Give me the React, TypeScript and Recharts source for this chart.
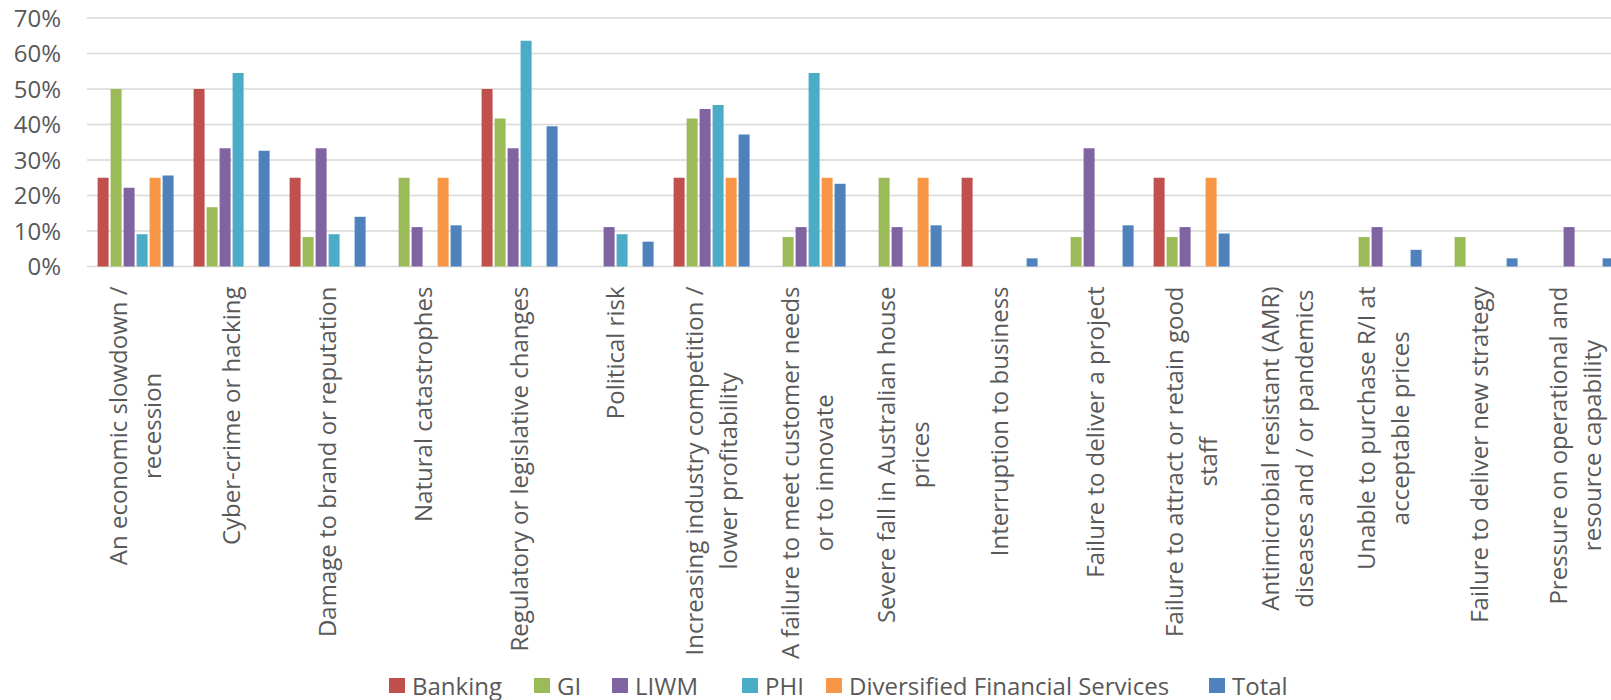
import React from 'react';
import { BarChart, Bar, XAxis, YAxis, CartesianGrid, Legend } from 'recharts';

const categories: string[] = [
  'An economic slowdown /\nrecession',
  'Cyber-crime or hacking',
  'Damage to brand or reputation',
  'Natural catastrophes',
  'Regulatory or legislative changes',
  'Political risk',
  'Increasing industry competition /\nlower profitability',
  'A failure to meet customer needs\nor to innovate',
  'Severe fall in Australian house\nprices',
  'Interruption to business',
  'Failure to deliver a project',
  'Failure to attract or retain good\nstaff',
  'Antimicrobial resistant (AMR)\ndiseases and / or pandemics',
  'Unable to purchase R/I at\nacceptable prices',
  'Failure to deliver new strategy',
  'Pressure on operational and\nresource capability',
];

const banking = [25, 50, 25, 0, 50, 0, 25, 0, 0, 25, 0, 25, 0, 0, 0, 0];
const gi = [50, 16.7, 8.3, 25, 41.7, 0, 41.7, 8.3, 25, 0, 8.3, 8.3, 0, 8.3, 8.3, 0];
const liwm = [22.2, 33.3, 33.3, 11.1, 33.3, 11.1, 44.4, 11.1, 11.1, 0, 33.3, 11.1, 0, 11.1, 0, 11.1];
const phi = [9.1, 54.5, 9.1, 0, 63.6, 9.1, 45.5, 54.5, 0, 0, 0, 0, 0, 0, 0, 0];
const dfs = [25, 0, 0, 25, 0, 0, 25, 25, 25, 0, 0, 25, 0, 0, 0, 0];
const total = [25.6, 32.6, 14.0, 11.6, 39.5, 7.0, 37.2, 23.3, 11.6, 2.3, 11.6, 9.3, 0, 4.7, 2.3, 2.3];

const yTicks = [0, 10, 20, 30, 40, 50, 60, 70];

const seriesNames = ['Banking', 'GI', 'LIWM', 'PHI', 'Diversified Financial Services', 'Total'];
const seriesColors = ['#C0504D', '#9BBB59', '#8064A2', '#4BACC6', '#F79646', '#4F81BD'];
const seriesValues = [banking, gi, liwm, phi, dfs, total];

// legend swatch left edges (layout only)
const legendLefts = [389, 534, 612, 742, 826, 1209];

const data = categories.map((name, i) => {
  const row: Record<string, any> = { name };
  seriesNames.forEach((s, k) => {
    row[s] = seriesValues[k][i];
  });
  return row;
});

const FONT = '"Open Sans", "Noto Sans", sans-serif';
const TEXT = '#595959';
const FS = 24;

let ctx: CanvasRenderingContext2D | null = null;
function measure(t: string): number {
  if (!ctx) {
    const c = document.createElement('canvas');
    ctx = c.getContext('2d');
  }
  if (!ctx) return t.length * FS * 0.55;
  ctx.font = `${FS}px "Open Sans"`;
  return ctx.measureText(t).width;
}

const CategoryTick = (props: any) => {
  const { x, y, payload } = props;
  const lines = String(payload.value).split('\n');
  const maxW = Math.max(...lines.map(measure));
  const cy = y + maxW / 2;
  const lh = 34;
  const n = lines.length;
  return (
    <text
      transform={`translate(${x},${cy}) rotate(-90)`}
      textAnchor="middle"
      fontSize={FS}
      fontFamily={FONT}
      fill={TEXT}
    >
      {lines.map((l, i) => (
        <tspan key={i} x={0} y={(i - (n - 1) / 2) * lh} dy="0.355em">
          {l}
        </tspan>
      ))}
    </text>
  );
};

const renderLegend = (props: any) => {
  const payload = [...(props.payload || [])].sort(
    (a: any, b: any) => seriesNames.indexOf(a.value) - seriesNames.indexOf(b.value)
  );
  return (
    <div
      style={{
        position: 'relative',
        height: 30,
        fontFamily: FONT,
        fontSize: FS,
        color: TEXT,
        whiteSpace: 'nowrap',
      }}
    >
      {payload.map((p: any, i: number) => (
        <div
          key={p.value}
          style={{
            position: 'absolute',
            left: legendLefts[i],
            top: 0,
            height: 30,
            display: 'flex',
            alignItems: 'center',
          }}
        >
          <span
            style={{
              width: 16,
              height: 15,
              background: p.color,
              marginRight: 7,
              display: 'inline-block',
            }}
          />
          <span>{p.value}</span>
        </div>
      ))}
    </div>
  );
};

export default function App() {
  return (
    <div
      style={{
        position: 'fixed',
        left: 0,
        top: 0,
        width: 1611,
        height: 700,
        overflow: 'hidden',
        background: '#ffffff',
      }}
    >
      <BarChart
        width={1640}
        height={700}
        data={data}
        margin={{ top: 18, right: 17, bottom: 0, left: 0 }}
        barCategoryGap={10.6}
        barGap={2}
      >
        <CartesianGrid vertical={false} stroke="#D9D9D9" strokeWidth={1.5} />
        <XAxis
          dataKey="name"
          interval={0}
          tickLine={false}
          axisLine={false}
          tickSize={0}
          tickMargin={20}
          height={403.5}
          tick={<CategoryTick />}
        />
        <YAxis
          width={87}
          domain={[0, 70]}
          ticks={yTicks}
          tickFormatter={(v: number) => `${v}%`}
          tickLine={false}
          axisLine={false}
          tickSize={0}
          tickMargin={26}
          tick={{ fontSize: FS, fill: TEXT, fontFamily: FONT }}
        />
        <Legend
          verticalAlign="bottom"
          content={renderLegend}
          wrapperStyle={{ left: 0, bottom: 0, width: 1640, height: 30 }}
        />
        {seriesNames.map((s, k) => (
          <Bar key={s} dataKey={s} fill={seriesColors[k]} isAnimationActive={false} />
        ))}
      </BarChart>
    </div>
  );
}
